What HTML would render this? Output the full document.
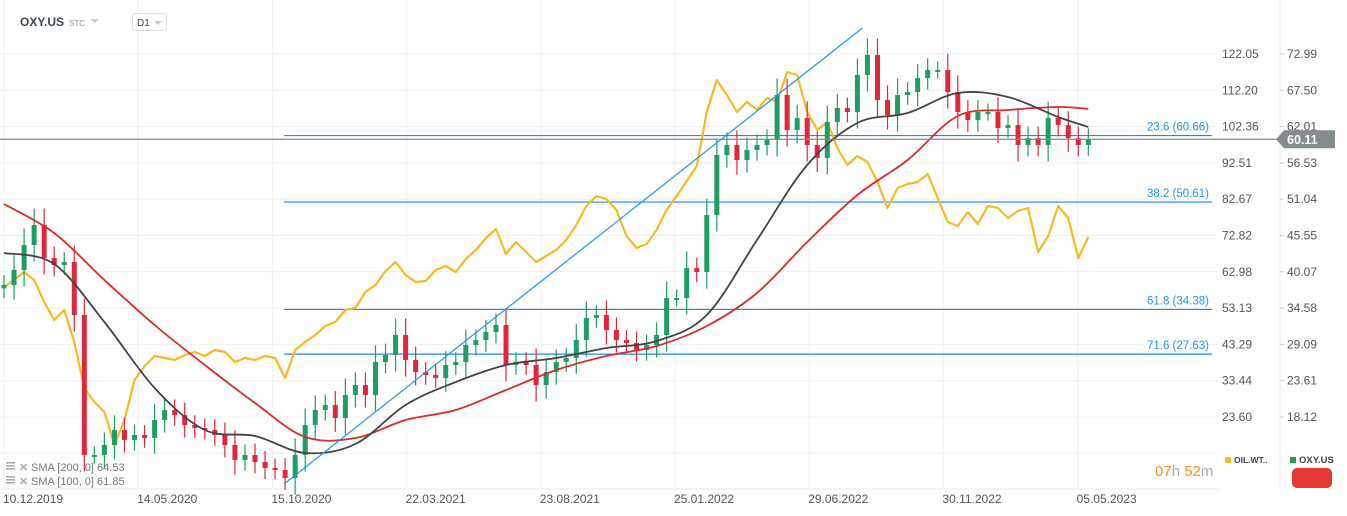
<!DOCTYPE html>
<html><head><meta charset="utf-8"><style>
body{margin:0;background:#fff;font-family:"Liberation Sans",sans-serif;}
#wrap{position:relative;width:1347px;height:516px;overflow:hidden;background:#fff;}
svg text{font-family:"Liberation Sans",sans-serif;}
</style></head><body>
<div id="wrap">
<svg id="chart" width="1347" height="516"></svg>
</div>
<script>
const dateLabels=["10.12.2019","14.05.2020","15.10.2020","22.03.2021","23.08.2021","25.01.2022","29.06.2022","30.11.2022","05.05.2023"];
const oilTicks=["122.05","112.20","102.36","92.51","82.67","72.82","62.98","53.13","43.29","33.44","23.60"];
const oxyTicks=["72.99","67.50","62.01","56.53","51.04","45.55","40.07","34.58","29.09","23.61","18.12"];
const oxyClose=[38.07,40.34,44.12,47.14,42.16,41.10,41.55,33.54,12.38,12.38,13.89,16.16,14.65,15.40,14.95,17.67,19.18,18.42,16.91,16.46,16.16,15.40,13.89,11.62,12.38,11.32,10.41,10.11,8.90,12.38,16.91,19.18,19.94,17.97,21.45,22.96,21.45,26.44,27.49,30.52,26.74,24.92,24.47,24.02,25.98,26.44,29.01,29.76,30.97,32.03,25.98,26.44,25.98,22.96,24.92,26.44,27.04,29.76,33.09,33.54,31.27,29.76,29.31,28.25,29.01,30.52,36.11,36.11,40.64,40.04,48.65,57.72,59.24,56.97,58.48,59.24,59.99,66.79,61.50,63.32,59.24,57.27,62.71,64.83,64.22,69.82,72.84,66.04,63.77,66.79,67.25,69.36,70.57,70.57,67.25,64.22,63.01,64.22,64.22,61.80,62.26,59.24,60.29,59.24,63.32,62.26,60.29,59.24,60.11];
const oilPrice=[58.86,60.76,62.93,60.76,54.79,49.91,52.62,43.94,31.47,27.67,24.96,16.01,22.79,33.64,37.44,40.15,39.61,39.06,40.42,41.23,40.15,41.77,41.23,38.52,39.61,39.06,40.15,39.61,34.18,41.77,43.94,45.84,48.28,49.37,52.62,53.17,57.50,59.40,63.20,65.64,62.11,60.22,60.49,63.47,64.56,62.93,66.45,68.89,72.15,74.59,67.81,71.06,68.35,65.64,67.27,68.89,71.61,75.67,80.83,83.54,82.73,79.74,72.69,69.44,70.52,74.32,79.74,83.54,87.61,91.68,106.32,115.00,110.93,106.32,109.03,106.86,110.12,109.03,117.17,116.35,106.32,101.44,103.61,96.56,91.95,94.39,92.76,87.34,80.29,85.71,86.79,87.34,89.51,83.00,76.49,75.40,79.20,75.95,80.83,80.29,77.57,79.47,80.29,68.35,72.69,80.83,77.57,66.73,72.42];
const smaIdx=[0,5,10,15,20,25,30,35,40,45,50,55,60,65,70,75,80,85,90,95,100,105,108];
const sma200=[50.32,45.93,38.83,32.03,25.98,20.24,15.10,14.95,17.67,19.18,22.20,25.23,27.34,28.85,31.88,36.87,44.57,51.68,56.97,63.62,64.53,64.98,64.68];
const sma100=[42.91,41.25,32.48,22.51,16.16,15.25,12.68,14.04,19.94,23.41,25.98,27.04,28.55,29.61,33.54,44.88,56.21,62.56,64.07,67.10,66.49,63.47,61.96];
const fibLevels=[60.66,50.61,34.38,27.63];
const fibNames=["23.6","38.2","61.8","71.6"];
const trendIdx=[27.9,85.5];
const trendVal=[8.00,76.92];
const lastPrice=60.11;

const NS="http://www.w3.org/2000/svg";
const svg=document.getElementById('chart');
function mk(tag,attrs,parent){const e=document.createElementNS(NS,tag);for(const k in attrs)e.setAttribute(k,attrs[k]);(parent||svg).appendChild(e);return e;}
const xS=i=>4+i*10.04;
const yR=p=>54+(72.99-p)*6.616;
const yL=v=>54+(122.05-v)*3.687;
function smooth(pts){let p='M'+pts[0][0].toFixed(1)+','+pts[0][1].toFixed(1);
  for(let i=0;i<pts.length-1;i++){const p0=pts[i-1]||pts[i],p1=pts[i],p2=pts[i+1],p3=pts[i+2]||p2;
    const c1=[p1[0]+(p2[0]-p0[0])/6,p1[1]+(p2[1]-p0[1])/6],c2=[p2[0]-(p3[0]-p1[0])/6,p2[1]-(p3[1]-p1[1])/6];
    p+='C'+c1.map(v=>v.toFixed(1)).join(',')+' '+c2.map(v=>v.toFixed(1)).join(',')+' '+p2[0].toFixed(1)+','+p2[1].toFixed(1);}
  return p;}

const grid=mk('g',{});


for(let k=0;k<12;k++){const y=54+k*36.3;mk('line',{x1:0,x2:1218,y1:y,y2:y,stroke:'#f0f0f0','stroke-width':1},grid);}
for(let k=0;k<9;k++){const x=4+k*134.2;mk('line',{x1:x,x2:x,y1:0,y2:488,stroke:'#f0f0f0','stroke-width':1},grid);}
mk('line',{x1:0,x2:1218,y1:489,y2:489,stroke:'#e8e8e8','stroke-width':1},grid);
mk('line',{x1:1280,x2:1280,y1:0,y2:490,stroke:'#ececec','stroke-width':1},grid);

const axL=mk('g',{'font-size':12,fill:'#555'});


oilTicks.forEach((t,k)=>{const tx=mk('text',{x:1222,y:54+k*36.3+4},axL);tx.textContent=t;});
const axR=mk('g',{'font-size':12,fill:'#555'});


oxyTicks.forEach((t,k)=>{const y=54+k*36.3;mk('line',{x1:1280,x2:1284,y1:y,y2:y,stroke:'#ccc'},axR);const tx=mk('text',{x:1287,y:y+4},axR);tx.textContent=t;});
const axX=mk('g',{'font-size':12,fill:'#555'});


dateLabels.forEach((t,k)=>{const tx=mk('text',{x:3+k*134.2,y:503},axX);tx.textContent=t;});

fibLevels.forEach((v,k)=>{
  const g=mk('g',{});
  
  
  const y=yR(v);
  mk('line',{x1:284,x2:1212,y1:y,y2:y,stroke:'#1e88e5','stroke-width':1.2},g);
  const t=mk('text',{x:1209,y:y-5,'text-anchor':'end','font-size':11.5,fill:'#2196f3'},g);
  t.textContent=fibNames[k]+' ('+v.toFixed(2)+')';
});

let d='';oilPrice.forEach((v,i)=>{d+=(i?'L':'M')+xS(i).toFixed(1)+','+yL(v).toFixed(1);});
const oil=mk('path',{d:d,fill:'none',stroke:'#f7b924','stroke-width':2.2,'stroke-linejoin':'round'});



const cg=mk('g',{});


oxyClose.forEach((c,i)=>{
  const o=i?oxyClose[i-1]:c-0.5;
  const up=c>=o;const col=up?'#1f9d63':'#e0263a';
  const k=Math.min(Math.abs(c-o)*0.4+1.3,2.5);
  const hi=Math.max(o,c)+k,lo=Math.min(o,c)-k;
  const x=xS(i);
  mk('line',{x1:x,x2:x,y1:yR(hi),y2:yR(lo),stroke:col,'stroke-width':1.2},cg);
  const top=yR(Math.max(o,c)),bot=yR(Math.min(o,c));
  const r=mk('rect',{x:x-2.5,y:top,width:5,height:Math.max(2,bot-top),fill:col},cg);
  
  
});

function smaPath(arr,col,name){const pts=arr.map((v,k)=>[xS(smaIdx[k]),yR(v)]);
  const e=mk('path',{d:smooth(pts),fill:'none',stroke:col,'stroke-width':1.8,'stroke-linejoin':'round'});
  
  }
smaPath(sma200,'#dd2a2a','sma-200-line');
smaPath(sma100,'#444','sma-100-line');

const tl=mk('line',{x1:xS(trendIdx[0]),y1:yR(trendVal[0]),x2:xS(trendIdx[1]),y2:yR(trendVal[1]),stroke:'#2196f3','stroke-width':1.2});



const ly=yR(lastPrice);
const lp=mk('line',{x1:0,x2:1278,y1:ly,y2:ly,stroke:'#7f8c8d','stroke-width':1.2});


const tag=mk('g',{});


mk('polygon',{points:`1276,${ly} 1284,${ly-9} 1335,${ly-9} 1335,${ly+9} 1284,${ly+9}`,fill:'#858c8f'},tag);
const tt=mk('text',{x:1287,y:ly+5,'font-size':12.5,'font-weight':'bold',fill:'#fff'},tag);tt.textContent=lastPrice.toFixed(2);

const hd=mk('g',{});


const h1=mk('text',{x:20,y:26,'font-size':12,'font-weight':'bold',fill:'#3a4750'},hd);h1.textContent='OXY.US';
const h2=mk('text',{x:69,y:26,'font-size':8,fill:'#8a9aa8'},hd);h2.textContent='STC';
mk('polygon',{points:'90,19 99,19 94.5,23',fill:'#c8cdd2'},hd);
const tf=mk('g',{});


mk('rect',{x:132.5,y:13.5,width:34,height:17,rx:3,fill:'#fff',stroke:'#dde1e4'},tf);
const t3=mk('text',{x:137,y:26,'font-size':10,fill:'#3a4750'},tf);t3.textContent='D1';
mk('polygon',{points:'154,21 162,21 158,25',fill:'#c8cdd2'},tf);

[['SMA [200, 0] 64.53',470],['SMA [100, 0] 61.85',484]].forEach((s,k)=>{
  const g=mk('g',{});
  
  
  for(let j=0;j<3;j++)mk('rect',{x:6,y:s[1]-8+j*3,width:9,height:1.6,fill:'#aaa'},g);
  const x=mk('text',{x:19,y:s[1]+1,'font-size':11,fill:'#aaa','font-weight':'bold'},g);x.textContent='✕';
  const t=mk('text',{x:31,y:s[1]+1,'font-size':11,fill:'#777'},g);t.textContent=s[0];
});

const cd=mk('text',{x:1155,y:476,'font-size':15,fill:'#f7931e'});


cd.innerHTML='07<tspan fill="#aab">h</tspan> 52<tspan fill="#aab">m</tspan>';

const rl=mk('g',{});


mk('rect',{x:1225,y:457,width:6,height:6,fill:'#f7b924'},rl);
const o1=mk('text',{x:1234,y:463,'font-size':8.5,'font-weight':'bold',fill:'#444'},rl);o1.textContent='OIL.WT..';
mk('rect',{x:1290,y:457,width:6,height:6,fill:'#1f9d63'},rl);
const o2=mk('text',{x:1299,y:463,'font-size':9.5,'font-weight':'bold',fill:'#444'},rl);o2.textContent='OXY.US';
const rb=mk('rect',{x:1292,y:468,width:40,height:20,rx:5,fill:'#e53935'},rl);


</script>
</body></html>
